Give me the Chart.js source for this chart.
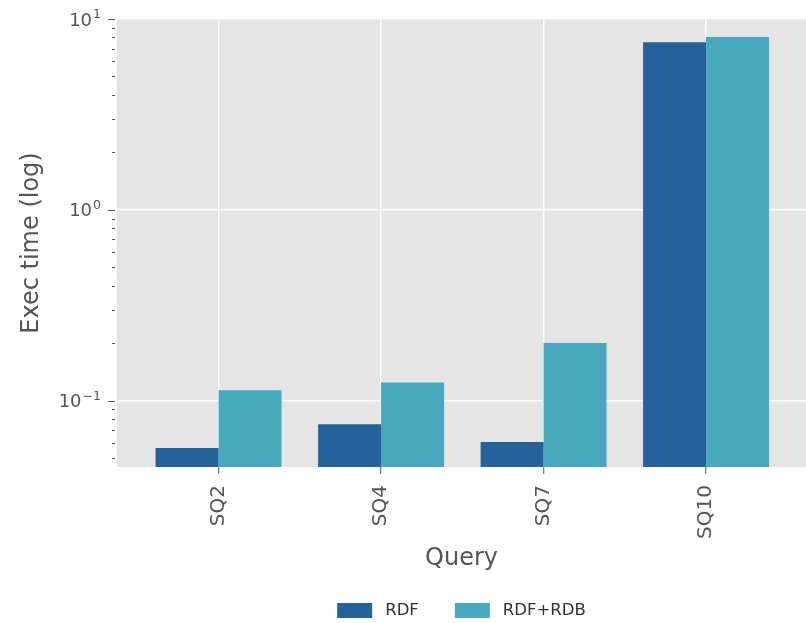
<!DOCTYPE html>
<html>
<head>
<meta charset="utf-8">
<script src="https://cdn.jsdelivr.net/npm/chart.js@4/dist/chart.umd.min.js"></script>
<style>
  html, body { margin: 0; padding: 0; background: #fff; }
  #wrap { width: 806px; height: 623px; }
</style>
</head>
<body>
<div id="wrap"><canvas id="exec-chart" width="806" height="623"></canvas></div>
<script>
const queries = ["SQ2", "SQ4", "SQ7", "SQ10"];
const rdf_times = [0.0565, 0.0752, 0.0608, 7.55];
const rdf_rdb_times = [0.1134, 0.1243, 0.2006, 8.05];
const series_names = ["RDF", "RDF+RDB"];
const series_colors = ["#25629a", "#46a9bd"];
const y_min = 0.0449;
const y_max = 10;
const y_major = [0.1, 1, 10];
const y_minor = [0.05, 0.06, 0.07, 0.08, 0.09, 0.2, 0.3, 0.4, 0.5, 0.6, 0.7, 0.8, 0.9, 2, 3, 4, 5, 6, 7, 8, 9];
const font_family = "'DejaVu Sans', sans-serif";
const text_grey = "#555555";

// grey panel behind the bars, ggplot style
const panelBackground = {
  id : "panelBackground",
  beforeDraw (chart) {
    const { ctx, chartArea } = chart;
    ctx.save();
    ctx.fillStyle = "#e5e5e5";
    ctx.fillRect(chartArea.left, chartArea.top, chartArea.right - chartArea.left, chartArea.bottom - chartArea.top);
    ctx.restore();
  }
};

// log axis ticks with 10^n labels, plus the bottom legend
const logAxisAndLegend = {
  id : "logAxisAndLegend",
  afterDraw (chart) {
    const { ctx, chartArea } = chart;
    const y = chart.scales.y;
    const tick_end = chartArea.left - 2;
    ctx.save();
    ctx.strokeStyle = text_grey;
    ctx.lineWidth = 1;

    y_minor.forEach(function (v) {
      const py = Math.round(y.getPixelForValue(v)) + 0.5;
      ctx.beginPath();
      ctx.moveTo(tick_end - 3, py);
      ctx.lineTo(tick_end, py);
      ctx.stroke();
    });

    y_major.forEach(function (v) {
      const py = y.getPixelForValue(v);
      ctx.beginPath();
      ctx.moveTo(tick_end - 7, Math.round(py) + 0.5);
      ctx.lineTo(tick_end, Math.round(py) + 0.5);
      ctx.stroke();

      const exp = Math.round(Math.log10(v));
      const exp_text = exp < 0 ? "\u2212" + Math.abs(exp) : String(exp);
      ctx.fillStyle = text_grey;
      ctx.textBaseline = "alphabetic";
      ctx.font = "18px " + font_family;
      const base_w = ctx.measureText("10").width;
      ctx.font = "12.5px " + font_family;
      const exp_w = ctx.measureText(exp_text).width;
      const right = 101;
      ctx.font = "18px " + font_family;
      ctx.fillText("10", right - exp_w - base_w - 1, py + 6.5);
      ctx.font = "12.5px " + font_family;
      ctx.fillText(exp_text, right - exp_w, py - 1);
    });

    // legend
    const box_w = 35, box_h = 15, text_gap = 13, item_gap = 36;
    ctx.font = "16.5px " + font_family;
    const widths = series_names.map(n => ctx.measureText(n).width);
    let total = 0;
    widths.forEach(function (w, i) {
      total += box_w + text_gap + w + (i < widths.length - 1 ? item_gap : 0);
    });
    let lx = (chartArea.left + chartArea.right) / 2 - total / 2;
    const ly = 610.5;
    series_names.forEach(function (name, i) {
      ctx.fillStyle = series_colors[i];
      ctx.fillRect(lx, ly - box_h / 2, box_w, box_h);
      ctx.fillStyle = "#333333";
      ctx.textBaseline = "middle";
      ctx.fillText(name, lx + box_w + text_gap, ly);
      lx += box_w + text_gap + widths[i] + item_gap;
    });
    ctx.restore();
  }
};

new Chart(document.getElementById("exec-chart"), {
  type : "bar",
  data : {
    datasets : [{
      label : series_names[0],
      data : rdf_times.map((v, i) => ({ x : i, y : v })),
      backgroundColor : series_colors[0],
      borderWidth : 0
    }, {
      label : series_names[1],
      data : rdf_rdb_times.map((v, i) => ({ x : i, y : v })),
      backgroundColor : series_colors[1],
      borderWidth : 0
    }]
  },
  options : {
    responsive : false,
    animation : false,
    layout : { padding : { top : 19, right : 0, bottom : 46, left : 0 } },
    categoryPercentage : 0.775,
    barPercentage : 1.0,
    plugins : {
      legend : { display : false },
      tooltip : { enabled : false }
    },
    scales : {
      x : {
        type : "linear",
        offset : false,
        min : -0.625,
        max : 3.615,
        afterBuildTicks : function (scale) {
          scale.ticks = queries.map((q, i) => ({ value : i }));
        },
        afterFit : function (scale) {
          scale.height = 110;
        },
        grid : {
          offset : false,
          color : "#ffffff",
          lineWidth : 1.5,
          drawTicks : true,
          tickLength : 7,
          tickColor : text_grey,
          tickWidth : 1
        },
        border : { display : false },
        ticks : {
          autoSkip : false,
          minRotation : 90,
          maxRotation : 90,
          padding : 11,
          color : text_grey,
          font : { family : font_family, size : 20 },
          callback : function (value) {
            return queries[value];
          }
        },
        title : {
          display : true,
          text : "Query",
          color : text_grey,
          font : { family : font_family, size : 24 },
          padding : { top : 0, bottom : 4 }
        }
      },
      y : {
        type : "logarithmic",
        min : y_min,
        max : y_max,
        afterBuildTicks : function (scale) {
          scale.ticks = y_major.map(v => ({ value : v }));
        },
        afterFit : function (scale) {
          scale.width = 117;
        },
        grid : {
          color : "#ffffff",
          lineWidth : 1.5,
          drawTicks : false
        },
        border : { display : false },
        ticks : { display : false },
        title : {
          display : true,
          text : "Exec time (log)",
          color : text_grey,
          font : { family : font_family, size : 24 },
          padding : { top : 17, bottom : 0 }
        }
      }
    }
  },
  plugins : [panelBackground, logAxisAndLegend]
});
</script>
</body>
</html>
